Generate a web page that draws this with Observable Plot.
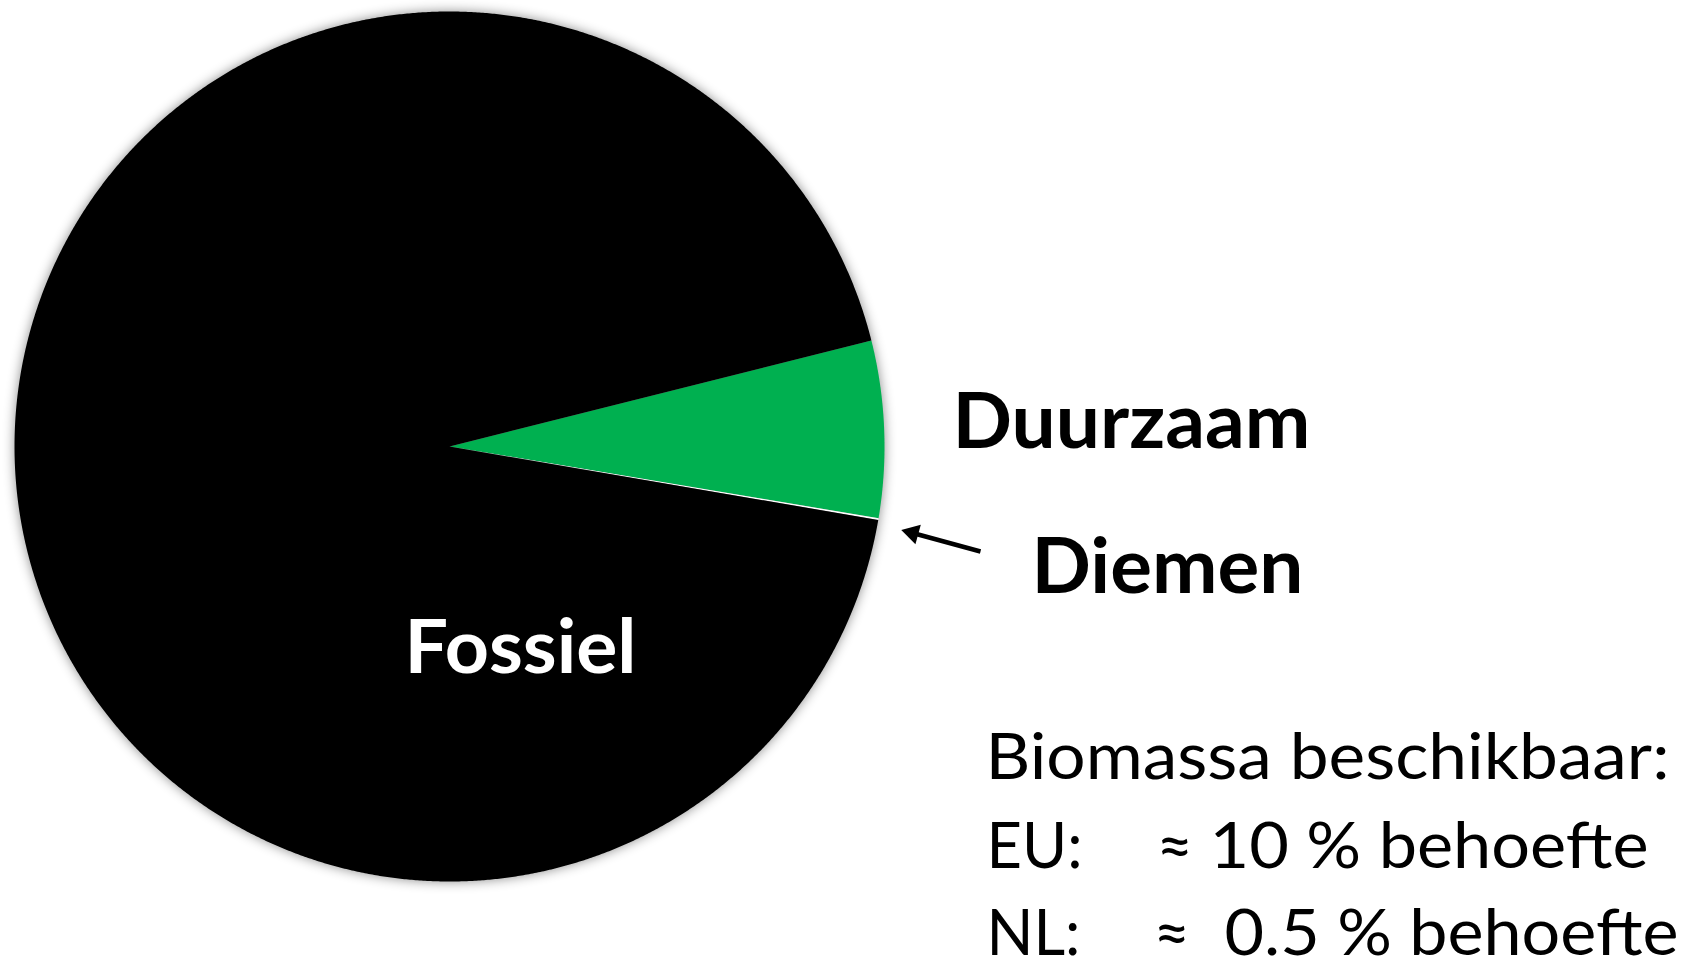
<!DOCTYPE html>
<html>
<head>
<meta charset="utf-8">
<script src="https://cdn.jsdelivr.net/npm/d3@7"></script>
<script src="https://cdn.jsdelivr.net/npm/@observablehq/plot@0.6"></script>
<style>
  html, body { margin: 0; padding: 0; background: #ffffff; }
  #chart svg { display: block; }
</style>
</head>
<body>
<div id="chart"></div>
<script>
// ---- data ----
const categories = ["Duurzaam", "Diemen", "Fossiel"];
const shares = [6.55, 0.07, 93.38];          // percent of total
const sliceColors = ["#00B050", "#FFFFFF", "#000000"];
const startBearing = 75.9;                    // degrees clockwise from 12 o'clock
const noteTitle = "Biomassa beschikbaar:";
const noteRegions = ["EU:", "NL:"];
const noteValues = ["10 % behoefte", "0.5 % behoefte"];
const approxSign = "≈";

// ---- layout (pixels) ----
const W = 1694, H = 959;
const CX = 449, CY = 446, R = 435;
const toU = (px) => (px - CX) / R;
const toV = (py) => (CY - py) / R;

// ---- build slices ----
const total = d3.sum(shares);
let acc = startBearing;
const slices = categories.map((name, i) => {
  const a0 = acc, a1 = acc + shares[i] / total * 360;
  acc = a1;
  const n = Math.max(2, Math.ceil((a1 - a0) / 0.25));
  const ring = [[0, 0]];
  for (let k = 0; k <= n; k++) {
    const a = (a0 + (a1 - a0) * k / n) * Math.PI / 180;
    ring.push([Math.sin(a), Math.cos(a)]);
  }
  ring.push([0, 0]);
  return {type: "Feature", properties: {name}, geometry: {type: "Polygon", coordinates: [ring]}};
});

// ---- labels ----
const boldLabels = [
  {text: categories[0], x: 952, y: 447, w: 358},
  {text: categories[1], x: 1031, y: 592, w: 272}
];
const whiteLabels = [
  {text: categories[2], x: 404, y: 672, w: 232}
];
const noteLabels = [
  {text: noteTitle, x: 985, y: 778, w: 684},
  {text: noteRegions[0], x: 986, y: 867, w: 96},
  {text: approxSign, x: 1156, y: 867},
  {text: noteValues[0], x: 1209, y: 867, w: 439},
  {text: noteRegions[1], x: 986, y: 954, w: 94},
  {text: approxSign, x: 1153, y: 954},
  {text: noteValues[1], x: 1224, y: 954, w: 454}
];
// arrow pointing at the Diemen slice: shaft + filled head
const arrowShaft = [{x1: 980, y1: 551, x2: 914, y2: 533}];
const arrowHead = [{x: 912, y: 532.5, rotate: -74.6}];

const FONT = "Lato, 'Open Sans', 'Noto Sans', sans-serif";

const chart = Plot.plot({
  width: W,
  height: H,
  marginLeft: CX - R,
  marginTop: CY - R,
  marginRight: W - (CX + R),
  marginBottom: H - (CY + R),
  projection: {
    type: "reflect-y",
    domain: {type: "MultiPoint", coordinates: [[-1, -1], [1, 1]]},
    inset: 0,
    clip: false
  },
  color: {domain: categories, range: sliceColors},
  marks: [
    Plot.geo(slices, {fill: (d) => d.properties.name, clip: false}),
    Plot.link(arrowShaft, {
      x1: (d) => toU(d.x1), y1: (d) => toV(d.y1),
      x2: (d) => toU(d.x2), y2: (d) => toV(d.y2),
      stroke: "#000000", strokeWidth: 4.5, curve: "linear"
    }),
    Plot.dot(arrowHead, {
      x: (d) => toU(d.x), y: (d) => toV(d.y), rotate: "rotate",
      symbol: "triangle", r: 7.5, fill: "#000000", stroke: "none"
    }),
    Plot.text(boldLabels, {
      x: (d) => toU(d.x), y: (d) => toV(d.y), text: "text",
      textAnchor: "start", lineAnchor: "bottom",
      fontFamily: FONT, fontWeight: "bold", fontSize: 76, fill: "#000000"
    }),
    Plot.text(whiteLabels, {
      x: (d) => toU(d.x), y: (d) => toV(d.y), text: "text",
      textAnchor: "start", lineAnchor: "bottom",
      fontFamily: FONT, fontWeight: "bold", fontSize: 74, fill: "#ffffff"
    }),
    Plot.text(noteLabels, {
      x: (d) => toU(d.x), y: (d) => toV(d.y), text: "text",
      textAnchor: "start", lineAnchor: "bottom",
      fontFamily: FONT, fontWeight: "normal", fontSize: 63, fill: "#000000"
    })
  ]
});

// widths to match the reference layout
const widths = new Map();
[...boldLabels, ...whiteLabels, ...noteLabels].forEach((d) => { if (d.w) widths.set(d.text, d.w); });
d3.select(chart).selectAll("text").each(function () {
  const w = widths.get(this.textContent);
  if (w) {
    this.setAttribute("textLength", w);
    this.setAttribute("lengthAdjust", "spacingAndGlyphs");
  }
});
d3.select(chart).selectAll('g[aria-label="geo"]')
  .style("filter", "drop-shadow(0px 0px 6px rgba(0,0,0,0.45))");

document.getElementById("chart").appendChild(chart);
</script>
</body>
</html>
